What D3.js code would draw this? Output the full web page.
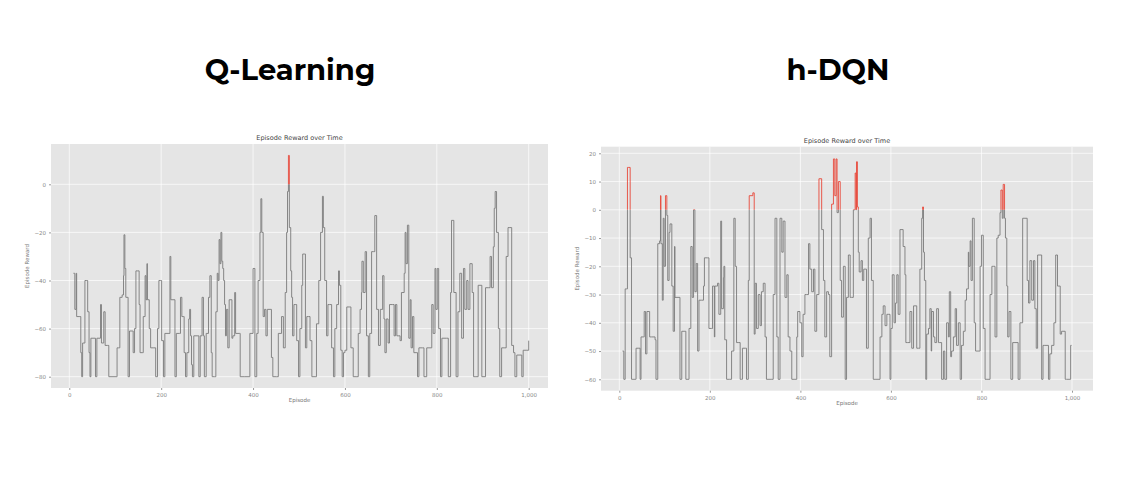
<!DOCTYPE html>
<html><head><meta charset="utf-8">
<script src="https://cdn.jsdelivr.net/npm/d3@7"></script>
<style>body{margin:0;background:#fff}svg{display:block}</style>
</head><body>
<svg id="c" width="1138" height="480"></svg>
<script>
const titles = ["Q-Learning", "h-DQN"];
const subTitle = "Episode Reward over Time";
const xLabel = "Episode", yLabel = "Episode Reward";
const xTicks = [0,200,400,600,800,1000];
const qTicksY = [0,-20,-40,-60,-80];
const hTicksY = [20,10,0,-10,-20,-30,-40,-50,-60];
// Q-Learning: [episode, reward] step points
const qEp = [9,12,15,16,23,25,27,29,32,34,38,40,43,45,47,56,57,60,67,68,70,74,75,78,83,86,102,104,107,110,115,118,119,121,123,128,131,138,139,142,145,149,152,154,160,161,165,167,169,170,174,177,184,188,192,195,199,201,205,
208,215,219,221,228,230,233,240,242,245,248,250,253,256,260,262,264,266,268,271,280,282,285,289,292,294,298,303,306,309,311,316,319,322,324,326,328,330,332,334,336,338,340,342,345,348,352,354,356,360,362,370,372,382,393,400,404,408,411,415,417,419,422,425,428,431,437,440,443,451,455,462,466,470,473,475,477,479,482,484,486,489,493,495,499,502,506,508,512,514,517,521,524,528,535,538,543,547,551,553,556,560,563,566,571,575,578,582,586,588,591,594,597,600,604,610,613,618,626,629,633,636,637,640,644,647,651,654,658,662,665,669,673,677,682,685,687,690,694,697,704,707,710,713,716,720,723,729,731,733,736,739,742,744,747,750,755,758,761,769,772,778,789,792,796,798,801,804,808,811,821,825,830,832,835,837,842,846,850,854,858,861,865,868,872,877,880,885,890,894,898,906,913,916,919,923,925,927,930,934,937,941,948,951,955,959,963,967,970,974,981,985,988,996,1000];
const qVal = [-37,-52,-37,-55,-55,-70,-80,-66,-66,-40,-40,-53,-70,-80,-64,-64,-80,-64,-64,-50,-66,-66,-53,-67,-67,-80,-80,-68,-68,-47,-46,-38,-21,-35,-47,-80,-61,-61,-70,-60,-36,-36,-50,-70,-70,-55,-38,-48,-33,-48,-60,-68,-68,-80,-60,-40,-40,-65,-80,
-62,-62,-30,-48,-48,-80,-62,-62,-47,-55,-55,-70,-80,-70,-56,-52,-63,-75,-80,-63,-63,-80,-63,-47,-63,-80,-62,-47,-38,-70,-80,-80,-53,-37,-40,-23,-33,-20,-32,-35,-40,-50,-63,-52,-68,-48,-48,-64,-63,-45,-62,-62,-80,-80,-62,-35,-80,-62,-40,-20,-6,-20,-55,-52,-63,-52,-52,-72,-80,-80,-62,-55,-68,-45,-20,-3,12,-18,-36,-47,-63,-50,-50,-65,-80,-60,-42,-29,-29,-68,-55,-55,-65,-80,-80,-58,-40,-20,-5,-18,-40,-63,-50,-50,-68,-80,-60,-50,-36,-42,-69,-80,-70,-69,-51,-51,-68,-80,-80,-62,-52,-45,-32,-45,-28,-63,-80,-62,-28,-28,-13,-52,-67,-52,-38,-56,-70,-56,-66,-50,-50,-63,-50,-63,-63,-65,-45,-37,-20,-33,-17,-64,-48,-68,-55,-70,-70,-80,-68,-68,-80,-68,-50,-62,-35,-52,-35,-60,-80,-64,-64,-80,-45,-15,-15,-45,-80,-53,-37,-64,-35,-52,-40,-52,-33,-45,-80,-80,-42,-42,-80,-43,-43,-30,-43,-26,-10,-3,-20,-60,-80,-68,-68,-30,-18,-18,-67,-70,-80,-71,-71,-80,-69,-69,-65];
// h-DQN
const hEp = [7,10,13,16,18,21,24,27,35,37,43,46,48,53,55,58,61,66,67,71,79,81,85,89,91,92,95,97,99,102,105,107,110,112,116,119,122,123,132,134,138,145,147,152,154,158,161,164,167,170,173,176,182,186,188,195,198,204,206,210,211,215,217,220,224,226,230,231,233,237,244,248,253,256,259,264,267,270,272,279,281,285,287,291,295,298,300,303,307,311,314,318,322,325,337,340,344,348,351,355,359,362,366,370,373,377,381,388,392,394,399,403,406,410,414,418,421,425,429,432,436,441,443,447,451,454,458,462,465,469,473,476,479,481,484,488,491,495,499,502,506,510,513,517,521,523,524,526,528,530,534,537,540,543,546,550,554,557,561,565,576,580,583,587,591,594,598,600,603,607,610,613,616,620,627,631,633,637,642,646,650,653,657,661,664,668,670,672,674,677,679,683,686,689,690,694,697,701,705,708,712,716,719,723,727,729,732,734,738,742,745,749,753,756,760,764,767,771,772,775,777,780,784,787,790,797,800,804,808,812,819,823,826,830,834,837,841,843,846,848,851,853,856,858,861,865,869,874,881,885,891,896,901,904,907,911,915,918,921,924,927,933,936,940,948,951,955,960,964,968,971,974,977,980,985,988,997,999];
const hVal = [-50,-60,-28,-28,15,15,-17,-60,-60,-49,-49,-60,-45,-45,-36,-51,-36,-36,-45,-45,-46,-60,-12,-11,5,-12,-32,-3,-20,5,-2,-25,-8,-5,-27,-43,-13,-31,-31,-60,-43,-43,-60,-60,-42,-13,-31,0,-29,-19,-50,-32,-32,-27,-17,-17,-42,-42,-27,-45,-27,-27,-26,-37,-4,-35,-24,-20,-46,-60,-60,-50,-3,-20,-47,-47,-60,-60,-49,-49,-60,-25,5,5,6,-44,-26,-42,-30,-41,-29,-26,-45,-60,-60,-30,-3,-45,-60,-3,-15,-4,-31,-23,-45,-50,-60,-60,-45,-36,-40,-52,-37,-30,-30,-12,-21,-29,-21,-43,-30,11,11,-7,-25,-45,-29,-30,-52,2,18,5,18,-1,10,-25,-38,-20,-60,-31,-16,-31,-31,0,13,0,17,1,-15,-22,-18,-25,-21,-21,-49,-10,-3,-25,-60,-60,-45,-37,-34,-41,-37,-37,-60,-42,-23,-40,-33,-23,-37,-7,-13,-23,-47,-47,-36,-49,-34,-34,-49,-49,-21,-3,1,-15,-25,-60,-44,-42,-35,-50,-36,-45,-47,-35,-47,-47,-60,-50,-60,-40,-45,-29,-52,-50,-45,-35,-48,-40,-60,-48,-43,-32,-28,-15,-20,-11,-25,-3,-40,-50,-50,-20,-9,-42,-60,-60,-30,-20,-20,-45,-10,-9,-1,7,-3,9,-3,-10,-27,-45,-36,-60,-47,-47,-60,-40,-3,-3,-25,-33,-18,-32,-18,-35,-49,-16,-16,-60,-48,-48,-60,-51,-48,-40,-16,-27,-27,-44,-43,-43,-60,-60,-48];

const svg = d3.select("#c");
function panel(id, title, cx, box, xr, yr, yDom, yTicks, eps, vals){
  const g = svg.append("g");
  g.append("text").attr("x",cx).attr("y",80).attr("text-anchor","middle")
   .attr("font-family","Montserrat, 'Open Sans', sans-serif").attr("font-weight",700)
   .attr("font-size",29).attr("fill","#000").text(title);
  const [x0,y0,x1,y1] = box;
  const x = d3.scaleLinear().domain([0,1000]).range(xr);
  const y = d3.scaleLinear().domain(yDom).range(yr);
  g.append("rect").attr("x",x0).attr("y",y0).attr("width",x1-x0).attr("height",y1-y0).attr("fill","#e5e5e5");
  const grid = g.append("g").attr("stroke","#fff").attr("stroke-width",0.7);
  xTicks.forEach(t=>grid.append("line").attr("x1",x(t)).attr("x2",x(t)).attr("y1",y0).attr("y2",y1));
  yTicks.forEach(t=>grid.append("line").attr("y1",y(t)).attr("y2",y(t)).attr("x1",x0).attr("x2",x1));
  const ax = g.append("g").attr("transform",`translate(0,${y1})`)
    .call(d3.axisBottom(x).tickValues(xTicks).tickSize(2).tickPadding(3));
  const ay = g.append("g").attr("transform",`translate(${x0},0)`)
    .call(d3.axisLeft(y).tickValues(yTicks).tickSize(2).tickPadding(3));
  [ax,ay].forEach(a=>{a.select(".domain").remove();a.selectAll("line").attr("stroke","#999");
    a.selectAll("text").attr("font-size",5.5).attr("fill","#888").attr("font-family","DejaVu Sans");});
  const data = eps.map((e,i)=>[e,vals[i]]);
  const line = d3.line().x(d=>x(d[0])).y(d=>y(d[1])).curve(d3.curveStepAfter);
  const yz = y(0);
  const defs = svg.append("defs");
  defs.append("clipPath").attr("id",id+"lo").append("rect").attr("x",x0).attr("y",yz).attr("width",x1-x0).attr("height",y1-yz);
  defs.append("clipPath").attr("id",id+"hi").append("rect").attr("x",x0).attr("y",y0).attr("width",x1-x0).attr("height",yz-y0);
  g.append("path").datum(data).attr("d",line).attr("fill","none").attr("stroke","#7a7a7a")
    .attr("stroke-width",0.9).attr("clip-path",`url(#${id}lo)`);
  g.append("path").datum(data).attr("d",line).attr("fill","none").attr("stroke","#e8473a")
    .attr("stroke-width",0.9).attr("clip-path",`url(#${id}hi)`);
  g.append("text").attr("x",(x0+x1)/2).attr("y",y0-4).attr("text-anchor","middle")
    .attr("font-size",6.5).attr("fill","#444").attr("font-family","DejaVu Sans").text(subTitle);
  g.append("text").attr("x",(x0+x1)/2).attr("y",y1+14).attr("text-anchor","middle")
    .attr("font-size",5.5).attr("fill","#777").attr("font-family","DejaVu Sans").text(xLabel);
  g.append("text").attr("transform",`translate(${x0-22},${(y0+y1)/2}) rotate(-90)`).attr("text-anchor","middle")
    .attr("font-size",5.5).attr("fill","#777").attr("font-family","DejaVu Sans").text(yLabel);
}
panel("q", titles[0], 290, [51,144,548,388], [69.3,528.7], [184.3,376.7], [0,-80], qTicksY, qEp, qVal);
panel("h", titles[1], 838, [601,146.7,1093,390.7], [619.3,1072], [153.3,379.3], [20,-60], hTicksY, hEp, hVal);
</script>
</body></html>
